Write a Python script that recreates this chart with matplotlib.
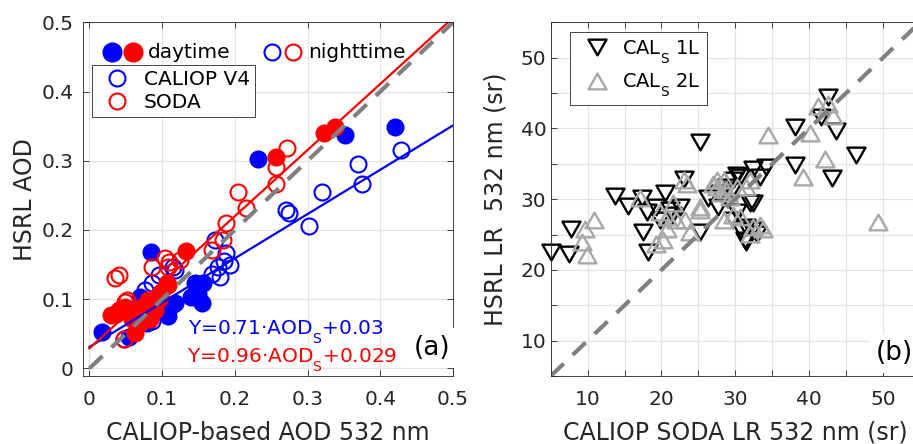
import matplotlib
matplotlib.use('Agg')
import matplotlib.pyplot as plt
from matplotlib.lines import Line2D
from matplotlib.path import Path
from matplotlib.ticker import FixedLocator, FixedFormatter

try:
    import matplotlib._mathtext as _mt
    _mt.DejaVuSansFontConstants.sub1 = 0.9
except Exception:
    pass

plt.rcParams['font.family'] = ['DejaVu Sans']
plt.rcParams['mathtext.fontset'] = 'dejavusans'

# ---------------- panel (a) data ----------------
v4_day_x = [0.420, 0.352, 0.232, 0.084, 0.145, 0.149, 0.140, 0.155, 0.117, 0.108,
            0.017, 0.079, 0.070, 0.113, 0.074, 0.065, 0.086, 0.054, 0.156]
v4_day_y = [0.349, 0.337, 0.303, 0.168, 0.123, 0.108, 0.103, 0.094, 0.094, 0.075,
            0.052, 0.065, 0.103, 0.091, 0.096, 0.089, 0.084, 0.046, 0.123]

soda_day_x = [0.338, 0.322, 0.256, 0.133, 0.029, 0.037, 0.040, 0.058, 0.070, 0.072,
              0.081, 0.090, 0.099, 0.108, 0.063, 0.049, 0.083, 0.106, 0.095]
soda_day_y = [0.349, 0.340, 0.306, 0.169, 0.077, 0.079, 0.084, 0.072, 0.065, 0.089,
              0.099, 0.084, 0.111, 0.120, 0.051, 0.089, 0.072, 0.123, 0.100]

v4_night_x = [0.429, 0.370, 0.375, 0.320, 0.270, 0.274, 0.302, 0.172, 0.188, 0.193,
              0.179, 0.168, 0.115, 0.086, 0.047, 0.086, 0.095, 0.117, 0.177, 0.076, 0.185]
v4_night_y = [0.315, 0.296, 0.267, 0.255, 0.229, 0.224, 0.205, 0.185, 0.166, 0.149,
              0.132, 0.137, 0.147, 0.123, 0.043, 0.069, 0.135, 0.142, 0.147, 0.113, 0.155]

soda_night_x = [0.272, 0.256, 0.256, 0.204, 0.215, 0.188, 0.183, 0.168, 0.104, 0.086,
                0.108, 0.040, 0.035, 0.049, 0.047, 0.110, 0.124, 0.052]
soda_night_y = [0.318, 0.291, 0.267, 0.255, 0.231, 0.2095, 0.185, 0.171, 0.159, 0.147,
                0.147, 0.135, 0.130, 0.096, 0.043, 0.154, 0.156, 0.099]

# fitted lines as drawn (slope, intercept)
v4_fit = (0.64, 0.031)
soda_fit = (0.955, 0.029)
fit_x = [0.0, 0.5]
one2one_a = [0.0, 0.5]

a_ticks = [0, 0.1, 0.2, 0.3, 0.4, 0.5]
a_ticklabels = ['0', '0.1', '0.2', '0.3', '0.4', '0.5']

# ---------------- panel (b) data ----------------
cal1_x = [5.0, 7.5, 7.8, 13.7, 15.5, 17.3, 17.5, 18.2, 18.0, 19.3, 20.5, 23.0, 21.4,
          25.2, 25.2, 26.3, 29.7, 30.6, 32.0, 30.8, 31.5, 32.4, 34.2, 33.3, 38.1, 38.1,
          42.6, 41.6, 43.6, 43.1, 46.3, 28.8, 29.5, 27.7, 31.5, 29.7, 27.9, 30.2, 30.2,
          32.2, 32.9, 31.3, 22.5, 21.1, 32.4, 19.8]
cal1_y = [22.5, 22.3, 25.8, 30.5, 29.1, 30.1, 25.4, 22.5, 28.2, 28.9, 30.8, 32.9, 27.7,
          38.1, 25.4, 30.1, 32.7, 33.1, 29.4, 25.6, 24.0, 34.3, 34.5, 33.1, 40.2, 34.8,
          44.4, 41.6, 39.6, 33.0, 36.2, 31.7, 31.3, 28.9, 26.1, 27.0, 30.8, 33.4, 28.2,
          25.6, 25.1, 24.2, 28.9, 28.4, 29.4, 27.0]

cal2_x = [10.8, 9.6, 9.2, 9.9, 17.1, 19.3, 20.7, 21.6, 23.0, 23.2, 25.2, 27.0, 28.4,
          32.4, 33.8, 34.4, 39.2, 40.1, 41.2, 42.6, 43.2, 42.1, 49.3, 23.4, 27.5, 28.4,
          30.2, 31.5, 32.0, 28.1, 29.3, 30.6, 33.3, 29.7, 25.2, 20.7, 19.8, 22.0, 23.9,
          20.2, 27.5, 28.8, 32.0]
cal2_y = [27.0, 25.8, 24.0, 22.1, 30.1, 23.7, 25.8, 29.4, 32.7, 27.0, 28.9, 32.2, 27.0,
          26.1, 25.8, 39.0, 33.1, 39.3, 43.2, 43.5, 41.8, 35.7, 26.8, 32.2, 32.7, 32.7,
          31.7, 31.7, 32.7, 30.8, 30.3, 27.5, 26.3, 27.7, 28.4, 27.5, 28.2, 27.0, 25.4,
          24.2, 31.7, 31.3, 25.1]

one2one_b = [5, 55]
b_major = [10, 20, 30, 40, 50]
b_minor = [5, 15, 25, 35, 45, 55]

# ---------------- figure ----------------
W, H = 913, 444
fig = plt.figure(figsize=(W / 100, H / 100), dpi=100)
axa = fig.add_axes([82.7 / W, 1 - 376 / H, 370.3 / W, 353.7 / H])
axb = fig.add_axes([550.7 / W, 1 - 376 / H, 369.3 / W, 353.7 / H])

dark = '#262626'
gridc = '#e3e3e3'
blue = (0, 0, 1)
red = (1, 0, 0)
gray = '#808080'
lgray = '#a8a8a8'


def style(ax):
    for s in ax.spines.values():
        s.set_color(dark)
        s.set_linewidth(0.6)
    ax.tick_params(which='both', direction='in', top=True, right=True, length=4,
                   width=0.6, colors=dark, labelsize=14.5)
    ax.set_axisbelow(True)


# ---- panel (a) ----
style(axa)
axa.set_xlim(-0.0093, 0.5)
axa.set_ylim(-0.011, 0.5)
axa.xaxis.set_major_locator(FixedLocator(a_ticks))
axa.xaxis.set_major_formatter(FixedFormatter(a_ticklabels))
axa.yaxis.set_major_locator(FixedLocator(a_ticks))
axa.yaxis.set_major_formatter(FixedFormatter(a_ticklabels))
axa.tick_params(axis='x', pad=10)
axa.tick_params(axis='y', pad=6.5)
axa.grid(True, color=gridc, lw=0.9)

ms = 11.5
mew = 1.5
axa.plot(v4_night_x, v4_night_y, 'o', ms=ms, mfc='none', mec=blue, mew=mew, clip_on=False)
axa.plot(v4_day_x, v4_day_y, 'o', ms=ms, mfc=blue, mec=blue, mew=mew, clip_on=False)
axa.plot(soda_day_x, soda_day_y, 'o', ms=ms, mfc=red, mec=red, mew=mew, clip_on=False)
axa.plot(soda_night_x, soda_night_y, 'o', ms=ms, mfc='none', mec=red, mew=mew, clip_on=False)

axa.plot(fit_x, [v4_fit[0] * x + v4_fit[1] for x in fit_x], color=blue, lw=1.6)
axa.plot(fit_x, [soda_fit[0] * x + soda_fit[1] for x in fit_x], color=red, lw=1.6)
axa.plot(one2one_a, one2one_a, color=gray, lw=3, dashes=(4.3, 3.0))

axa.set_xlabel('CALIOP-based AOD 532 nm', fontsize=17, color=dark)
axa.set_ylabel('HSRL AOD', fontsize=17, color=dark)
axa.xaxis.set_label_coords(0.5, -0.127)
axa.yaxis.set_label_coords(-0.124, 0.5)

# day/night header row
ly = 0.917
axa.plot([0.0783], [ly], 'o', ms=13.5, mfc=blue, mec=blue, transform=axa.transAxes, clip_on=False)
axa.plot([0.1366], [ly], 'o', ms=13.5, mfc=red, mec=red, transform=axa.transAxes, clip_on=False)
axa.text(0.177, 0.898, 'daytime', transform=axa.transAxes, fontsize=14.5, color='k', va='baseline')
axa.plot([0.510], [ly], 'o', ms=ms, mfc='none', mec=blue, mew=mew, transform=axa.transAxes, clip_on=False)
axa.plot([0.569], [ly], 'o', ms=ms, mfc='none', mec=red, mew=mew, transform=axa.transAxes, clip_on=False)
axa.text(0.609, 0.898, 'nighttime', transform=axa.transAxes, fontsize=14.5, color='k', va='baseline')

ha = [Line2D([], [], ls='none', marker='o', ms=ms, mfc='none', mec=blue, mew=mew),
      Line2D([], [], ls='none', marker='o', ms=ms, mfc='none', mec=red, mew=mew)]
lega = axa.legend(ha, ['CALIOP V4', 'SODA'], loc='upper left', bbox_to_anchor=(0.0243, 0.879),
                  borderaxespad=0, fontsize=14.5, frameon=True, fancybox=False,
                  borderpad=0.25, handlelength=2.0, handletextpad=0.33, labelspacing=0.2)
lega.get_frame().set_edgecolor(dark)
lega.get_frame().set_linewidth(0.6)
lega.get_frame().set_alpha(1)

axa.text(0.285, 0.118, 'Y=0.71·AOD$_\\mathregular{S}$+0.03', transform=axa.transAxes,
         fontsize=14.5, color=blue, va='baseline')
axa.text(0.281, 0.0404, 'Y=0.96·AOD$_\\mathregular{S}$+0.029', transform=axa.transAxes,
         fontsize=14.5, color=red, va='baseline')
axa.text(0.893, 0.0594, '(a)', transform=axa.transAxes, fontsize=19, color='k', va='baseline',
         bbox=dict(boxstyle='square,pad=0.25', fc='white', ec='none'))

# ---- panel (b) ----
style(axb)
axb.set_xlim(5, 55)
axb.set_ylim(5, 55)
axb.xaxis.set_major_locator(FixedLocator(b_major))
axb.xaxis.set_minor_locator(FixedLocator(b_minor))
axb.yaxis.set_major_locator(FixedLocator(b_major))
axb.yaxis.set_minor_locator(FixedLocator(b_minor))
axb.tick_params(axis='x', which='both', pad=10)
axb.tick_params(axis='y', which='both', pad=3)
axb.grid(True, which='both', color=gridc, lw=0.9)

tri_down = Path([(-1.15, 1.0), (1.15, 1.0), (0.0, -1.0), (-1.15, 1.0)],
                [Path.MOVETO, Path.LINETO, Path.LINETO, Path.CLOSEPOLY])
tri_up = Path([(-1.15, -1.0), (1.15, -1.0), (0.0, 1.0), (-1.15, -1.0)],
              [Path.MOVETO, Path.LINETO, Path.LINETO, Path.CLOSEPOLY])
tms = 13
axb.plot(cal1_x, cal1_y, ls='none', marker=tri_down, ms=tms, mfc='none', mec='k', mew=1.7,
         clip_on=False, label='CAL$_\\mathregular{S}$ 1L')
axb.plot(cal2_x, cal2_y, ls='none', marker=tri_up, ms=tms, mfc='none', mec=lgray, mew=1.7,
         clip_on=False, label='CAL$_\\mathregular{S}$ 2L')
axb.plot(one2one_b, one2one_b, color=gray, lw=3, dashes=(4.3, 3.0))

legb = axb.legend(loc='upper left', bbox_to_anchor=(0.052, 0.973), borderaxespad=0,
                  fontsize=14, frameon=True, fancybox=False, borderpad=0.3,
                  handlelength=2.15, handletextpad=0.25, labelspacing=0.3)
legb.get_frame().set_edgecolor(dark)
legb.get_frame().set_linewidth(0.6)
legb.get_frame().set_alpha(1)

axb.set_xlabel('CALIOP SODA LR 532 nm (sr)', fontsize=17, color=dark)
axb.set_ylabel('HSRL LR  532 nm (sr)', fontsize=17, color=dark)
axb.xaxis.set_label_coords(0.5, -0.127)
axb.yaxis.set_label_coords(-0.116, 0.5)
axb.text(0.880, 0.0452, '(b)', transform=axb.transAxes, fontsize=19, color='k', va='baseline',
         bbox=dict(boxstyle='square,pad=0.25', fc='white', ec='none'))

fig.savefig('out.png', dpi=100)
